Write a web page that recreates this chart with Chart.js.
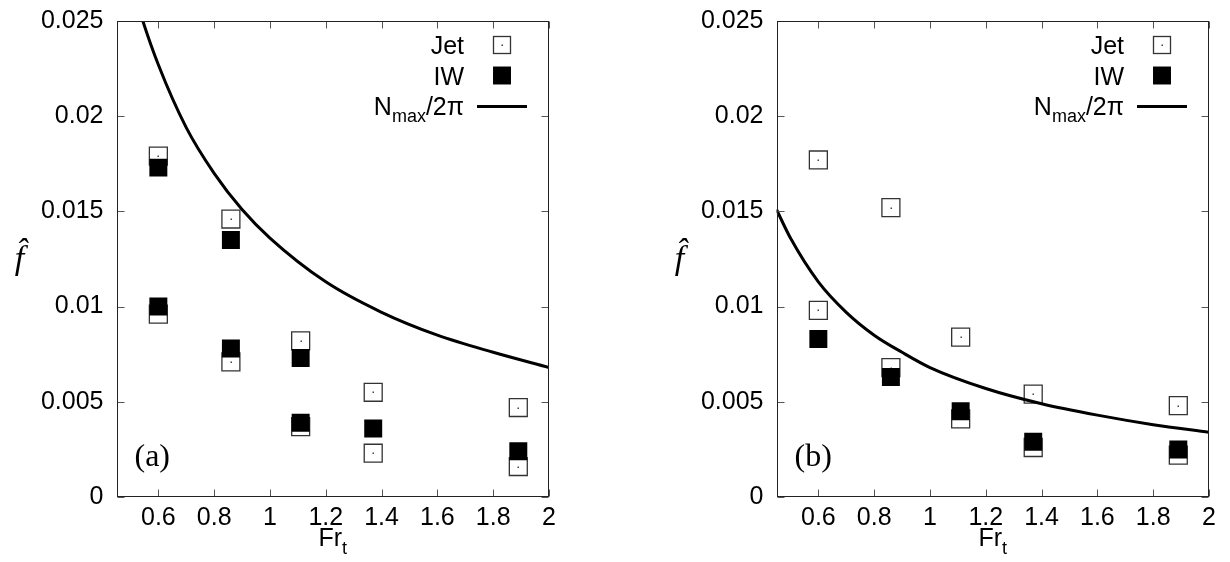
<!DOCTYPE html>
<html>
<head>
<meta charset="utf-8">
<script src="https://cdn.jsdelivr.net/npm/chart.js"></script>
<style>
  html, body { margin: 0; padding: 0; background: #fff; }
  body { width: 1230px; height: 562px; position: relative; overflow: hidden; }
  canvas { position: absolute; top: 0; }
  #panelA { left: 0; }
  #panelB { left: 660px; }
</style>
</head>
<body>
<canvas id="panelA" width="570" height="562"></canvas>
<canvas id="panelB" width="570" height="562"></canvas>
<script>
// axis ticks shared by both panels
const frTicks = [0.6, 0.8, 1, 1.2, 1.4, 1.6, 1.8, 2];
const fTicks = [0, 0.005, 0.01, 0.015, 0.02, 0.025];

// panel (a)
const jetFrA = [0.6, 0.6, 0.86, 0.86, 1.11, 1.11, 1.37, 1.37, 1.89, 1.89];
const jetFA = [0.0179, 0.0096, 0.0146, 0.0071, 0.0082, 0.0037, 0.0055, 0.0023, 0.0047, 0.0016];
const iwFrA = [0.6, 0.6, 0.86, 0.86, 1.11, 1.11, 1.37, 1.89];
const iwFA = [0.0173, 0.0100, 0.0135, 0.0078, 0.0073, 0.0039, 0.0036, 0.0024];
const nmaxFrA = [0.52, 0.54, 0.6, 0.7, 0.8, 0.9, 1.0, 1.2, 1.4, 1.6, 1.8, 2.0];
const nmaxFA = [0.0262, 0.0252, 0.0227, 0.0194, 0.0170, 0.0151, 0.0136, 0.0113, 0.0097, 0.0085, 0.0076, 0.0068];

// panel (b)
const jetFrB = [0.6, 0.6, 0.86, 0.86, 1.11, 1.11, 1.37, 1.37, 1.89, 1.89];
const jetFB = [0.0177, 0.0098, 0.0152, 0.0068, 0.0084, 0.0041, 0.0054, 0.0026, 0.0048, 0.0022];
const iwFrB = [0.6, 0.86, 1.11, 1.37, 1.89];
const iwFB = [0.0083, 0.0063, 0.0045, 0.0029, 0.0025];
const nmaxFrB = [0.45, 0.5, 0.6, 0.7, 0.8, 0.9, 1.0, 1.2, 1.4, 1.6, 1.8, 2.0];
const nmaxFB = [0.0151, 0.0136, 0.0113, 0.0097, 0.0085, 0.0076, 0.0068, 0.0057, 0.0049, 0.0043, 0.0038, 0.0034];

const SANS = "'Liberation Sans', Arial, Helvetica, sans-serif";
const SERIF = "'Liberation Serif', 'Times New Roman', serif";
const SQ = 12.7; // rect radius -> ~18px square

const pts = (xs, ys) => xs.map((v, i) => ({ x: v, y: ys[i] }));

// gnuplot-style frame: mirrored inward ticks, inset key, sub/superscript labels
const gnuplotFrame = {
  id: 'gnuplotFrame',
  afterDatasetDraw(chart, args) {
    if (chart.data.datasets[args.index].label !== 'Jet') return;
    const ctx = chart.ctx;
    ctx.save();
    ctx.fillStyle = '#444';
    args.meta.data.forEach(p => ctx.fillRect(Math.round(p.x) - 0.5, Math.round(p.y) - 0.5, 1.5, 1.5));
    ctx.restore();
  },
  afterDraw(chart, args, opts) {
    const { ctx, chartArea: a, scales: { x, y } } = chart;
    const L = Math.round(a.left) + 0.5, R = Math.round(a.right) - 0.5;
    const T = Math.round(a.top) + 0.5, B = Math.round(a.bottom) - 0.5;
    ctx.save();

    // ticks
    ctx.strokeStyle = '#555';
    ctx.lineWidth = 1;
    ctx.beginPath();
    x.ticks.forEach(t => {
      const px = Math.round(x.getPixelForValue(t.value)) + 0.5;
      ctx.moveTo(px, B); ctx.lineTo(px, B - 7);
      ctx.moveTo(px, T); ctx.lineTo(px, T + 7);
    });
    y.ticks.forEach(t => {
      const py = Math.round(y.getPixelForValue(t.value)) + 0.5;
      ctx.moveTo(L, py); ctx.lineTo(L + 7, py);
      ctx.moveTo(R, py); ctx.lineTo(R - 7, py);
    });
    ctx.stroke();

    // frame
    ctx.strokeStyle = '#222';
    ctx.strokeRect(L, T, R - L, B - T);

    // key
    const ds = chart.data.datasets;
    const textRight = a.right - 85;
    const symX = a.right - 47;
    const rows = [a.top + 24, a.top + 54.5, a.top + 85];
    ctx.fillStyle = '#000';
    ctx.textBaseline = 'alphabetic';
    ['Jet', 'IW', 'N_max/2π'].forEach((lab, i) => {
      const d = ds.find(s => s.label === lab);
      const yy = rows[i];
      if (lab === 'N_max/2π') {
        ctx.font = `25px ${SANS}`;
        const wN = ctx.measureText('N').width;
        const wTail = ctx.measureText('/2π').width;
        ctx.font = `18px ${SANS}`;
        const wSub = ctx.measureText('max').width;
        let sx = textRight - (wN + wSub + wTail);
        ctx.textAlign = 'left';
        ctx.font = `25px ${SANS}`;
        ctx.fillText('N', sx, yy + 9);
        ctx.font = `18px ${SANS}`;
        ctx.fillText('max', sx + wN, yy + 16);
        ctx.font = `25px ${SANS}`;
        ctx.fillText('/2π', sx + wN + wSub, yy + 9);
        ctx.strokeStyle = d.borderColor;
        ctx.lineWidth = d.borderWidth;
        ctx.beginPath();
        ctx.moveTo(a.right - 72, yy + 0.5);
        ctx.lineTo(a.right - 22, yy + 0.5);
        ctx.stroke();
      } else {
        ctx.font = `25px ${SANS}`;
        ctx.textAlign = 'right';
        ctx.fillText(lab, textRight, yy + 9);
        const s = SQ * Math.SQRT1_2;
        if (d.backgroundColor !== 'rgba(0,0,0,0)') {
          ctx.fillStyle = d.backgroundColor;
          ctx.fillRect(symX - s, yy - s, 2 * s, 2 * s);
        } else {
          ctx.strokeStyle = d.borderColor;
          ctx.lineWidth = d.borderWidth;
          ctx.strokeRect(Math.round(symX - s) + 0.5, Math.round(yy - s) + 0.5, Math.round(2 * s) - 1, Math.round(2 * s) - 1);
          ctx.fillStyle = '#444';
          ctx.fillRect(Math.round(symX) - 0.5, Math.round(yy) - 0.5, 1.5, 1.5);
        }
        ctx.fillStyle = '#000';
      }
    });

    // panel tag
    ctx.textAlign = 'left';
    ctx.font = `32px ${SERIF}`;
    ctx.fillText(opts.tag, a.left + 18, a.bottom - 31);

    // x title: Fr_t
    ctx.font = `25px ${SANS}`;
    const wFr = ctx.measureText('Fr').width;
    ctx.font = `18px ${SANS}`;
    const wt = ctx.measureText('t').width;
    const cx = (a.left + a.right) / 2;
    const sx = cx - (wFr + wt) / 2;
    ctx.font = `25px ${SANS}`;
    ctx.fillText('Fr', sx, a.bottom + 49);
    ctx.font = `18px ${SANS}`;
    ctx.fillText('t', sx + wFr, a.bottom + 57);

    // y title: f-hat
    ctx.textAlign = 'center';
    ctx.font = `italic 34px ${SERIF}`;
    ctx.fillText('f\u0302', a.left - 97, y.getPixelForValue(0.0125) + 10);

    ctx.restore();
  }
};

function buildPanel(id, tag, jetFr, jetF, iwFr, iwF, curveFr, curveF) {
  return new Chart(document.getElementById(id), {
    type: 'scatter',
    data: {
      datasets: [
        {
          label: 'N_max/2π',
          data: pts(curveFr, curveF),
          showLine: true,
          borderColor: '#000',
          borderWidth: 3,
          pointRadius: 0,
          cubicInterpolationMode: 'monotone',
          fill: false
        },
        {
          label: 'IW',
          data: pts(iwFr, iwF),
          pointStyle: 'rect',
          pointRadius: SQ,
          backgroundColor: '#000',
          borderColor: '#000',
          borderWidth: 0
        },
        {
          label: 'Jet',
          data: pts(jetFr, jetF),
          pointStyle: 'rect',
          pointRadius: SQ,
          backgroundColor: 'rgba(0,0,0,0)',
          borderColor: '#333',
          borderWidth: 1.3
        }
      ]
    },
    options: {
      responsive: false,
      devicePixelRatio: 1,
      animation: false,
      events: [],
      layout: { padding: { top: 21, right: 21, left: 0, bottom: 0 } },
      plugins: {
        legend: { display: false },
        tooltip: { enabled: false },
        gnuplotFrame: { tag }
      },
      scales: {
        x: {
          type: 'linear',
          min: 0.45,
          max: 2,
          grid: { display: false, drawTicks: false },
          border: { display: false },
          afterBuildTicks: s => { s.ticks = frTicks.map(v => ({ value: v })); },
          afterFit: s => { s.height = 65; s.paddingLeft = 0; s.paddingRight = 0; },
          ticks: {
            color: '#000',
            font: { family: SANS, size: 25 },
            padding: 6,
            maxRotation: 0,
            autoSkip: false,
            callback: v => String(+v.toFixed(1))
          }
        },
        y: {
          type: 'linear',
          min: 0,
          max: 0.025,
          grid: { display: false, drawTicks: false },
          border: { display: false },
          afterBuildTicks: s => { s.ticks = fTicks.map(v => ({ value: v })); },
          afterFit: s => { s.width = 116.5; s.paddingTop = 0; s.paddingBottom = 0; },
          ticks: {
            color: '#000',
            font: { family: SANS, size: 25 },
            padding: 13,
            autoSkip: false,
            callback: v => String(+v.toFixed(3))
          }
        }
      }
    },
    plugins: [gnuplotFrame]
  });
}

buildPanel('panelA', '(a)', jetFrA, jetFA, iwFrA, iwFA, nmaxFrA, nmaxFA);
buildPanel('panelB', '(b)', jetFrB, jetFB, iwFrB, iwFB, nmaxFrB, nmaxFB);
</script>
</body>
</html>
